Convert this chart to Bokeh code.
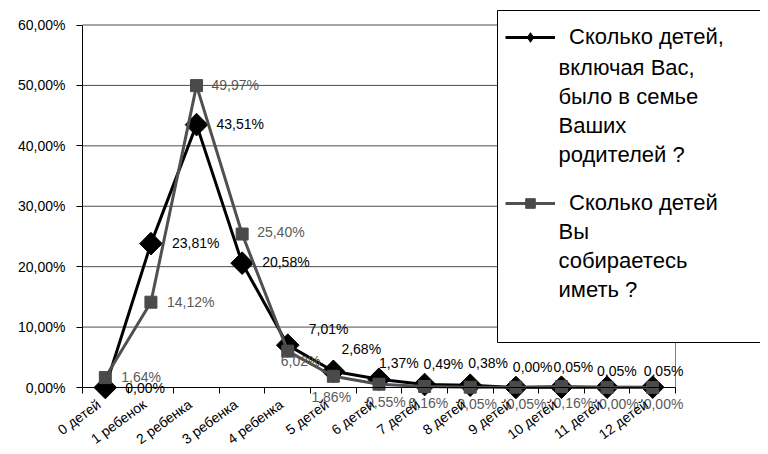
import math
from bokeh.plotting import figure
from bokeh.models import (ColumnDataSource, Range1d, FixedTicker, Legend, LegendItem,
                          BoxAnnotation, Label)
from bokeh.core.properties import value
from bokeh.embed import file_html
from bokeh.resources import INLINE

# ---- data ----
categories = ["0 детей", "1 ребенок", "2 ребенка", "3 ребенка", "4 ребенка", "5 детей",
              "6 детей", "7 детей", "8 детей", "9 детей", "10 детей", "11 детей", "12 детей"]
parents = [0.00, 23.81, 43.51, 20.58, 7.01, 2.68, 1.37, 0.49, 0.38, 0.00, 0.05, 0.05, 0.05]
planned = [1.64, 14.12, 49.97, 25.40, 6.02, 1.86, 0.55, 0.16, 0.05, 0.05, 0.16, 0.00, 0.00]
y_ticks = [0, 10, 20, 30, 40, 50, 60]
y_tick_labels = ["0,00%", "10,00%", "20,00%", "30,00%", "40,00%", "50,00%", "60,00%"]
name_parents = ["Сколько детей,", "включая Вас,", "было в семье", "Ваших", "родителей ?"]
name_planned = ["Сколько детей", "Вы", "собираетесь", "иметь ?"]

# data-label placement offsets (screen px): left start and vertical shift
off_parents_x = [20, 21, 20, 20, 21, 8, 0, -1, -2, -3, -8, -10, -9]
off_parents_y = [0, -1, -1, -1, -16, -22, -16, -21, -22, -21, -20, -16, -16]
off_planned_x = [16, 16, 15, 15, -7, -22, -13, -16, -13, -9, -8, -8, -9]
off_planned_y = [-1, 0, -1, -2, 10, 21, 18, 16, 17, 17, 16, 16, 16]

FONT = "Liberation Sans"

# ---- layout geometry (canvas pixels); the frame covers the whole canvas ----
W, H = 760, 446
AREA_L, AREA_R = 82.0, 675.0      # plotting area left/right edges (13 categories)
Y0_PX, Y60_PX = 387.0, 24.5       # pixel rows of 0% and 60%

ncat = len(categories)
ppx = (AREA_R - AREA_L) / ncat                       # px per category
ppu = (Y0_PX - Y60_PX) / (y_ticks[-1] - y_ticks[0])  # px per percent
x_start, x_end = -AREA_L / ppx, (W - AREA_L) / ppx
y_start, y_end = -(H - Y0_PX) / ppu, Y0_PX / ppu


def sx(px):  # canvas x -> frame-relative screen x
    return px


def sy(py):  # canvas y -> frame-relative screen y (from bottom)
    return H - py


def fmt(v):
    return ("%.2f%%" % v).replace(".", ",")


xs = [i + 0.5 for i in range(ncat)]

src_par = ColumnDataSource(dict(x=xs, y=parents, t=[fmt(v) for v in parents],
                                dx=off_parents_x, dy=off_parents_y))
src_pla = ColumnDataSource(dict(x=xs, y=planned, t=[fmt(v) for v in planned],
                                dx=off_planned_x, dy=off_planned_y))

p = figure(width=W, height=H, output_backend="svg", toolbar_location=None,
           x_range=Range1d(x_start, x_end), y_range=Range1d(y_start, y_end),
           min_border_left=0, min_border_right=0, min_border_top=0, min_border_bottom=0)
p.background_fill_color = "white"
p.border_fill_color = "white"
p.outline_line_color = None
p.xgrid.visible = False
p.ygrid.visible = False

# horizontal gridlines across the plotting area only
p.segment(x0=0, y0=y_ticks[1:], x1=ncat, y1=y_ticks[1:], line_color="#4d4d4d", line_width=1)
# right border of the plotting area
p.segment(x0=[ncat], y0=[y_ticks[0]], x1=[ncat], y1=[y_ticks[-1]],
          line_color="#808080", line_width=1)

# y axis at x = 0
yax = p.yaxis[0]
yax.fixed_location = 0
yax.bounds = (y_ticks[0], y_ticks[-1])
yax.ticker = FixedTicker(ticks=y_ticks)
yax.major_label_overrides = {t: l for t, l in zip(y_ticks, y_tick_labels)}
yax.axis_line_color = "black"
yax.major_tick_line_color = "black"
yax.major_tick_out = 6
yax.major_tick_in = 0
yax.minor_tick_line_color = None
yax.major_label_standoff = 11
yax.major_label_text_font = FONT
yax.major_label_text_font_size = "14px"
yax.major_label_text_color = "black"

# x axis at 0%: labels under category centres, tick marks at category boundaries
LABEL_SHIFT = 0.14
xax = p.xaxis[0]
xax.fixed_location = 0
xax.bounds = (0, ncat)
lab_pos = [x - LABEL_SHIFT for x in xs]
xax.ticker = FixedTicker(ticks=lab_pos, minor_ticks=list(range(ncat + 1)))
xax.major_label_overrides = {x: c for x, c in zip(lab_pos, categories)}
xax.axis_line_color = "black"
xax.major_tick_line_color = None
xax.major_tick_out = 0
xax.major_tick_in = 0
xax.minor_tick_line_color = "black"
xax.minor_tick_out = 6
xax.minor_tick_in = 0
xax.major_label_orientation = 0.63
xax.major_label_standoff = 9
xax.major_label_text_font = FONT
xax.major_label_text_font_size = "14px"
xax.major_label_text_color = "black"

# series
l1 = p.line("x", "y", source=src_par, line_color="black", line_width=3)
m1 = p.scatter("x", "y", source=src_par, marker="square", angle=math.pi / 4, size=16,
               fill_color="black", line_color="black")
l2 = p.line("x", "y", source=src_pla, line_color="#505050", line_width=3)
m2 = p.scatter("x", "y", source=src_pla, marker="square", size=12,
               fill_color="#4a4a4a", line_color="#4a4a4a")
# legend sample marker for series 1 (diamond); its single point is not drawable
m1_leg = p.scatter(x=[math.nan], y=[math.nan], marker="diamond", size=12,
                   fill_color="black", line_color="black")

p.text("x", "y", text="t", source=src_par, x_offset="dx", y_offset="dy",
       text_font=value(FONT), text_font_size="14px", text_color="black",
       text_align="left", text_baseline="middle")
p.text("x", "y", text="t", source=src_pla, x_offset="dx", y_offset="dy",
       text_font=value(FONT), text_font_size="14px", text_color="#5a5a5a",
       text_align="left", text_baseline="middle")

# ---- legend ----
box = BoxAnnotation(left=sx(497), right=sx(W + 20), top=sy(10), bottom=sy(342),
                    left_units="screen", right_units="screen",
                    top_units="screen", bottom_units="screen",
                    fill_color="white", fill_alpha=1.0,
                    line_color="black", line_width=1, line_alpha=1.0)
p.add_layout(box)

ITEM_H = 24


def make_legend(label, renderers, center_y):
    lg = Legend(items=[LegendItem(label=label, renderers=renderers)],
                location=(sx(505), sy(center_y) - ITEM_H / 2))
    lg.label_text_font = FONT
    lg.label_text_font_size = "22px"
    lg.label_text_color = "black"
    lg.glyph_width = 50
    lg.glyph_height = ITEM_H
    lg.label_height = ITEM_H
    lg.label_standoff = 14
    lg.padding = 0
    lg.margin = 0
    lg.border_line_color = None
    lg.background_fill_alpha = 0
    return lg


p.add_layout(make_legend(name_parents[0], [l1, m1_leg], 38))
p.add_layout(make_legend(name_planned[0], [l2, m2], 204))

LINE_STEP = 29
for first_base, lines in ((38, name_parents), (202, name_planned)):
    for k, txt in enumerate(lines[1:], start=1):
        p.add_layout(Label(x=sx(558), y=sy(first_base + k * LINE_STEP),
                           x_units="screen", y_units="screen", text=txt,
                           text_font=FONT, text_font_size="22px", text_color="black",
                           text_align="left", text_baseline="alphabetic"))

open("out.html", "w").write(file_html(p, INLINE))
